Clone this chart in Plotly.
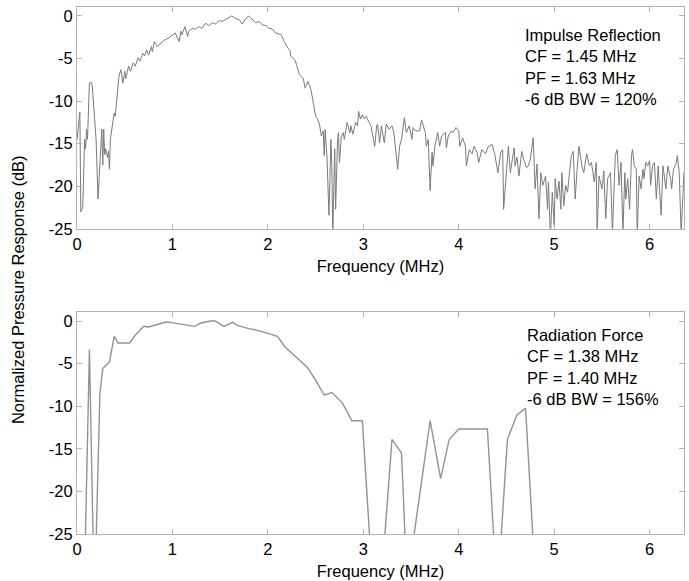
import plotly.graph_objects as go
from plotly.subplots import make_subplots

# ---------------- data ----------------
top_freq = [0.00, 0.03, 0.04, 0.06, 0.08, 0.09, 0.10, 0.11, 0.13, 0.15, 0.16, 0.19, 0.20, 0.22, 0.24, 0.25,
            0.26, 0.27, 0.28, 0.29, 0.30, 0.32, 0.33, 0.34, 0.35, 0.38, 0.39, 0.40, 0.42, 0.44, 0.46, 0.48,
            0.50, 0.51, 0.54, 0.56, 0.59, 0.61, 0.64, 0.66, 0.69, 0.71, 0.73, 0.75, 0.78, 0.79, 0.81, 0.84,
            0.88, 0.92, 0.96, 1.01, 1.03, 1.07, 1.09, 1.10, 1.13, 1.16, 1.17, 1.21, 1.24, 1.28, 1.31, 1.35,
            1.38, 1.42, 1.45, 1.49, 1.52, 1.56, 1.59, 1.62, 1.66, 1.70, 1.73, 1.77, 1.80, 1.84, 1.87, 1.91,
            1.94, 1.98, 2.01, 2.05, 2.08, 2.14, 2.17, 2.21, 2.23, 2.24, 2.28, 2.30, 2.33, 2.37, 2.39, 2.42,
            2.45, 2.47, 2.50, 2.52, 2.54, 2.56, 2.58, 2.59, 2.60, 2.62, 2.64, 2.66, 2.67, 2.68, 2.70, 2.71,
            2.73, 2.74, 2.75, 2.77, 2.79, 2.80, 2.83, 2.86, 2.87, 2.89, 2.92, 2.94, 2.95, 2.97, 2.99, 3.01,
            3.03, 3.06, 3.08, 3.12, 3.14, 3.15, 3.17, 3.19, 3.22, 3.24, 3.27, 3.30, 3.32, 3.36, 3.38, 3.40,
            3.43, 3.45, 3.48, 3.51, 3.52, 3.55, 3.59, 3.61, 3.63, 3.65, 3.66, 3.68, 3.70, 3.72, 3.73, 3.75,
            3.78, 3.80, 3.82, 3.86, 3.87, 3.89, 3.92, 3.94, 3.97, 4.00, 4.01, 4.04, 4.07, 4.08, 4.11, 4.14,
            4.16, 4.19, 4.21, 4.24, 4.27, 4.28, 4.31, 4.35, 4.38, 4.41, 4.44, 4.46, 4.47, 4.50, 4.52, 4.54,
            4.58, 4.59, 4.61, 4.63, 4.66, 4.68, 4.71, 4.73, 4.75, 4.78, 4.80, 4.82, 4.84, 4.86, 4.88, 4.91,
            4.93, 4.94, 4.96, 4.98, 5.00, 5.01, 5.03, 5.05, 5.07, 5.08, 5.10, 5.12, 5.14, 5.16, 5.18, 5.20,
            5.22, 5.24, 5.26, 5.29, 5.31, 5.34, 5.37, 5.39, 5.42, 5.44, 5.45, 5.47, 5.50, 5.52, 5.54, 5.56,
            5.59, 5.61, 5.64, 5.66, 5.68, 5.70, 5.72, 5.74, 5.75, 5.77, 5.79, 5.81, 5.82, 5.84, 5.86, 5.87,
            5.89, 5.91, 5.93, 5.94, 5.96, 5.98, 6.00, 6.01, 6.03, 6.05, 6.07, 6.09, 6.12, 6.14, 6.15, 6.17,
            6.19, 6.22, 6.23, 6.25, 6.28, 6.29, 6.31, 6.33, 6.36, 6.38]
top_db = [-14.5, -11.3, -23.0, -22.5, -14.5, -15.6, -13.3, -14.5, -7.9, -7.8, -8.2, -12.5, -14.5, -21.5, -17.1, -16.5,
          -13.3, -17.5, -13.3, -16.3, -15.6, -16.6, -15.9, -18.0, -14.5, -12.1, -11.4, -11.8, -9.0, -7.1, -6.3, -7.9,
          -6.5, -7.4, -5.9, -6.5, -5.5, -5.9, -4.9, -5.3, -4.4, -4.7, -4.0, -4.6, -3.6, -4.2, -3.0, -3.6,
          -3.2, -2.8, -2.6, -2.2, -2.0, -3.0, -1.8, -2.2, -1.25, -2.4, -1.8, -1.45, -1.55, -1.25, -1.45, -0.85,
          -1.15, -0.8, -0.95, -0.55, -0.65, -0.4, -0.15, 0.0, -0.3, -0.45, -0.95, -0.3, 0.0, -0.45, -0.8, -0.65,
          -1.05, -1.15, -1.45, -1.55, -2.0, -2.2, -3.0, -3.8, -4.0, -4.75, -5.1, -5.7, -6.9, -7.3, -8.45, -7.7,
          -8.6, -9.8, -11.8, -12.1, -12.7, -14.1, -13.5, -16.4, -13.3, -16.8, -23.4, -14.5, -17.6, -26.0, -15.6, -22.7,
          -14.5, -13.7, -17.2, -14.1, -13.7, -14.5, -12.5, -13.7, -12.9, -13.9, -12.5, -12.9, -11.2, -12.1, -11.6, -12.1,
          -11.8, -12.5, -12.9, -15.3, -12.9, -12.7, -14.9, -12.9, -14.9, -12.7, -13.3, -12.9, -13.7, -18.0, -15.3, -14.5,
          -11.95, -13.7, -12.9, -14.5, -13.1, -13.5, -13.5, -12.2, -12.9, -13.7, -15.3, -14.5, -20.5, -16.0, -17.6, -15.3,
          -13.7, -15.3, -14.1, -13.7, -15.5, -14.1, -13.5, -13.7, -13.1, -13.5, -15.3, -14.3, -15.3, -17.6, -15.7, -16.2,
          -15.3, -16.0, -17.2, -15.7, -16.0, -16.2, -15.3, -15.1, -16.4, -18.4, -16.0, -15.7, -22.7, -17.6, -15.3, -18.4,
          -15.5, -17.6, -16.6, -18.8, -15.9, -16.8, -17.8, -17.6, -16.8, -14.3, -20.3, -17.4, -23.8, -18.4, -19.9, -18.8,
          -22.7, -19.5, -26.0, -20.7, -24.6, -19.1, -21.5, -19.4, -22.7, -18.4, -22.3, -19.9, -20.7, -18.4, -16.4, -15.9,
          -21.5, -18.0, -15.3, -17.6, -18.4, -16.2, -17.6, -17.2, -19.5, -17.2, -25.5, -18.8, -20.3, -18.2, -23.8, -19.1,
          -18.4, -25.5, -16.4, -15.7, -19.9, -17.2, -25.5, -18.4, -21.5, -19.1, -22.7, -16.4, -15.7, -17.6, -18.0, -25.5,
          -18.8, -20.3, -18.0, -19.1, -17.2, -17.6, -17.0, -19.9, -17.6, -17.2, -21.5, -17.6, -23.4, -17.6, -18.4, -20.3,
          -17.6, -19.1, -20.3, -18.0, -17.2, -16.4, -18.4, -25.5, -18.4, -19.1]

bot_freq = [0.087, 0.13, 0.17, 0.20, 0.24, 0.27, 0.34, 0.39, 0.43, 0.55, 0.61, 0.70, 0.75, 0.86, 0.93, 0.98,
            1.12, 1.23, 1.30, 1.40, 1.45, 1.54, 1.63, 1.68, 1.80, 1.89, 2.01, 2.10, 2.18, 2.29, 2.41, 2.50,
            2.59, 2.67, 2.78, 2.88, 2.99, 3.07, 3.22, 3.30, 3.40, 3.44, 3.52, 3.70, 3.81, 3.90, 4.00, 4.30,
            4.37, 4.44, 4.51, 4.61, 4.70, 4.78]
bot_db = [-26.0, -3.35, -26.0, -26.0, -8.5, -5.57, -4.79, -1.79, -2.57, -2.57, -1.67, -0.62, -0.70, -0.31, -0.11, -0.15,
          -0.43, -0.62, -0.23, 0.0, 0.0, -0.62, -0.15, -0.5, -0.89, -1.09, -1.48, -1.79, -3.04, -4.21, -5.4, -6.94,
          -8.7, -8.4, -9.6, -11.7, -11.7, -26.0, -26.0, -13.9, -15.5, -26.0, -26.0, -11.7, -18.5, -13.9, -12.67, -12.67,
          -26.0, -26.0, -13.9, -11.0, -10.25, -26.0]

x_ticks = [0, 1, 2, 3, 4, 5, 6]
y_ticks = [0, -5, -10, -15, -20, -25]
top_text = ["Impulse Reflection", "CF = 1.45 MHz", "PF = 1.63 MHz", "-6 dB BW = 120%"]
bot_text = ["Radiation Force", "CF = 1.38 MHz", "PF = 1.40 MHz", "-6 dB BW = 156%"]

FONT = "Arial, Liberation Sans, sans-serif"
FS = 16.5
FRAME = "#b4b4b4"

fig = make_subplots(rows=2, cols=1, vertical_spacing=0.158)

fig.add_trace(go.Scatter(x=top_freq, y=top_db, mode="lines",
                         line=dict(color="#7a7a7a", width=1), showlegend=False), row=1, col=1)
fig.add_trace(go.Scatter(x=bot_freq, y=bot_db, mode="lines",
                         line=dict(color="#939393", width=1.4), showlegend=False), row=2, col=1)

axis_common = dict(showline=True, linecolor=FRAME, linewidth=1, mirror="ticks",
                   ticks="inside", ticklen=5, tickcolor=FRAME, showgrid=False, zeroline=False,
                   tickfont=dict(family=FONT, size=FS, color="black"))

for r in (1, 2):
    fig.update_xaxes(range=[0, 6.36], tickvals=x_ticks, ticktext=[str(t) for t in x_ticks],
                     title=dict(text="Frequency (MHz)", font=dict(family=FONT, size=FS, color="black"),
                                standoff=8),
                     row=r, col=1, **axis_common)
    fig.update_yaxes(range=[-25, 1.05], tickvals=y_ticks, ticktext=[str(t) for t in y_ticks],
                     row=r, col=1, **axis_common)

fig.add_annotation(xref="x domain", yref="y domain", x=0.735, y=0.925, xanchor="left", yanchor="top",
                   text="<br>".join(top_text), align="left", showarrow=False,
                   font=dict(family=FONT, size=FS, color="black"))
fig.add_annotation(xref="x2 domain", yref="y2 domain", x=0.738, y=0.947, xanchor="left", yanchor="top",
                   text="<br>".join(bot_text), align="left", showarrow=False,
                   font=dict(family=FONT, size=FS, color="black"))
fig.add_annotation(xref="paper", yref="paper", x=-0.097, y=0.463, xanchor="center", yanchor="middle",
                   text="Normalized Pressure Response (dB)", textangle=-90, showarrow=False,
                   font=dict(family=FONT, size=FS, color="black"))

fig.update_layout(width=689, height=581, margin=dict(l=77, r=5, t=7, b=47),
                  paper_bgcolor="white", plot_bgcolor="white")

fig.write_html("out.html")
